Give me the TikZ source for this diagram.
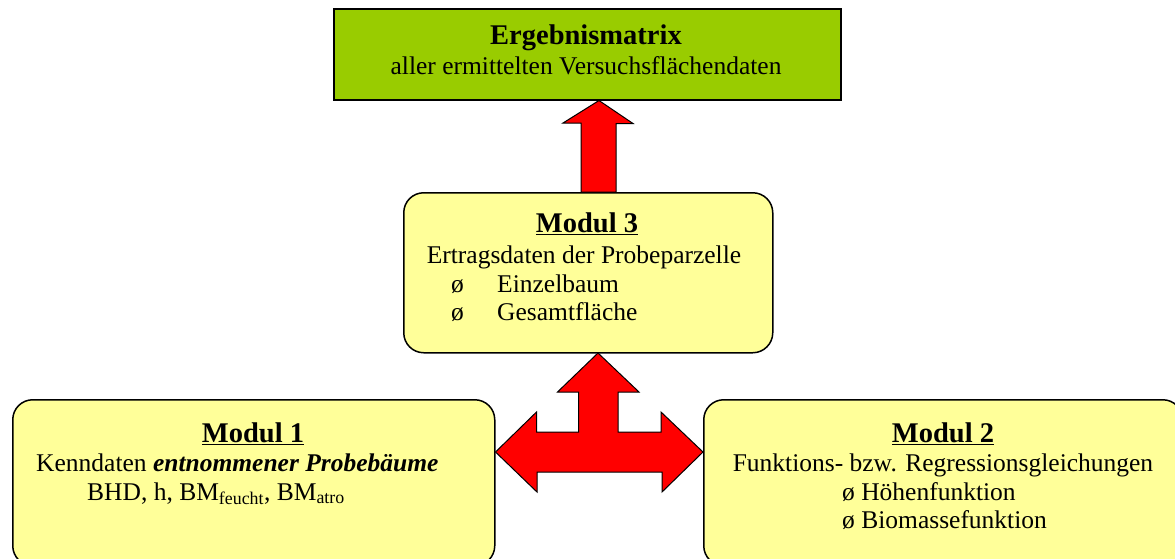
\documentclass[tikz,border=0pt]{standalone}
\usepackage{fontspec}
\setmainfont{Liberation Serif}
\usetikzlibrary{positioning, calc}
\definecolor{matrixgreen}{RGB}{153,204,0}
\definecolor{modulyellow}{RGB}{255,255,153}
\definecolor{arrowred}{RGB}{255,0,0}

\begin{document}
\begin{tikzpicture}[
    x=1pt, y=-1pt,
    result/.style={rectangle, draw, line width=1.5pt, fill=matrixgreen, anchor=north west, inner sep=0pt},
    modul/.style={rectangle, draw, line width=1.5pt, fill=modulyellow, rounded corners=20pt, anchor=north west, inner sep=0pt},
    blockarrow/.style={draw, line width=1pt, fill=arrowred, line join=miter},
    head/.style={font=\fontsize{28.5}{31}\selectfont\bfseries, anchor=base},
    txt/.style={font=\fontsize{25.5}{29}\selectfont, anchor=base},
    txtl/.style={font=\fontsize{25.5}{29}\selectfont, anchor=base west, inner sep=0pt}
]
\clip (0,0) rectangle (1175,558);
% boxes
\node[result, minimum width=507pt, minimum height=91pt] (res) at (333,8) {};
\node[modul, minimum width=369pt, minimum height=160pt] (m3) at (403,192) {};
\node[modul, minimum width=482pt, minimum height=166pt] (m1) at (12,399) {};
\node[modul, minimum width=479pt, minimum height=166pt] (m2) at (703,399) {};
% arrow up to result
\draw[blockarrow] (m3.north -| 581,0) -- ++(0,-69) -- ++(-18,0) -- (res.south -| 599,0)
    -- ++(34,23) -- ++(-17,0) -- (m3.north -| 616,0) -- cycle;
% three-way arrow
\coordinate (tip) at (598,353);
\draw[blockarrow] (tip) -- ++(41,39) -- ++(-21,0) -- ++(0,40) -- ++(43,0) -- ++(0,-20)
    -- (m2.west |- 0,452) -- ++(-41,40) -- ++(0,-20) -- ++(-125,0) -- ++(0,20)
    -- (m1.east |- 0,452) -- ++(41,-40) -- ++(0,20) -- ++(42,0) -- ++(0,-40)
    -- ++(-21,0) -- cycle;
% result text
\node[head] (restitle) at (586,44) {Ergebnismatrix};
\node[txt] (resline) at (586,74) {aller ermittelten Versuchsflächendaten};
% Modul 3
\node[head] (m3title) at (587,232) {\underline{Modul 3}};
\node[txt] (m3line) at (584,263) {Ertragsdaten der Probeparzelle};
\node[txtl] (m3b1) at (451,292) {ø};
\node[txtl] (m3i1) at (497,292) {Einzelbaum};
\node[txtl] (m3b2) at (451,320) {ø};
\node[txtl] (m3i2) at (497,320) {Gesamtfläche};
% Modul 1
\node[head] (m1title) at (253,442) {\underline{Modul 1}};
\node[txtl] (m1line) at (36,471) {Kenndaten \textbf{\textit{entnommener Probebäume}}};
\node[txtl] (m1vars) at (87,500) {BHD, h, BM\textsubscript{feucht}, BM\textsubscript{atro}};
% Modul 2
\node[head] (m2title) at (943,442) {\underline{Modul 2}};
\node[txt] (m2line) at (943,471) {Funktions- bzw. Regressionsgleichungen};
\node[txtl] (m2i1) at (842,500) {ø Höhenfunktion};
\node[txtl] (m2i2) at (842,528) {ø Biomassefunktion};
\end{tikzpicture}
\end{document}
